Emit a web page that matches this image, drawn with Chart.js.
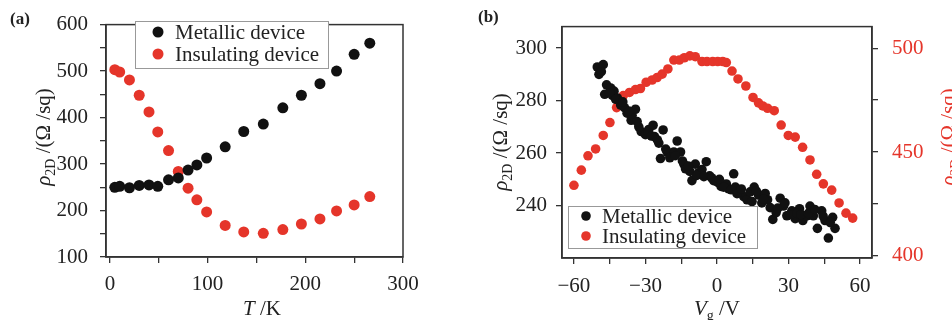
<!DOCTYPE html>
<html>
<head>
<meta charset="utf-8">
<script src="https://cdn.jsdelivr.net/npm/chart.js@4.4.1/dist/chart.umd.min.js"></script>
<style>
  body { margin: 0; background: #fff; width: 952px; height: 320px; overflow: hidden; position: relative; }
  canvas { position: absolute; top: 0; }
  #chartA { left: 0; }
  #chartB { left: 440px; }
</style>
</head>
<body>
<canvas id="chartA" width="440" height="320"></canvas>
<canvas id="chartB" width="512" height="320"></canvas>
<script>
// panel (a): resistivity vs temperature
const tempK = [5, 10, 20, 30, 40, 49, 60, 70, 80, 89, 99, 118, 137, 157, 177, 196, 215, 232, 250, 266];
const rhoMetallicA = [250, 252, 249, 254, 255, 252, 266, 270, 287, 298, 313, 337, 370, 386, 421, 448, 473, 500, 536, 560];
const rhoInsulatingA = [503, 498, 481, 448, 412, 369, 329, 284, 248, 223, 197, 168, 154, 151, 159, 171, 182, 199, 212, 230];

// panel (b): resistivity vs gate voltage
const vgMetallic = [-50.2, -49.5, -47.7, -47.1, -46.3, -44.6, -43.9, -43.2, -41.8, -40.4, -38.8, -37.7, -36, -35.6, -34.2,
  -32.8, -31.8, -30, -28.6, -26.8, -26.2, -24.4, -23.7, -22.6, -20.9, -19.8, -18.1, -16.7, -15.3, -13.9, -13.2, -11.4,
  -10.5, -9.1, -7.7, -6.3, -4.5, -3.1, -1.4, 0.3, 1.7, 3.9, 4.9, 7, 7.7, 9.1, 11.2, 12.6, 13.9, 15.6, 17.4, 18.8, 20.2,
  21.2, 22.3, 23.4, 24.8, 26.5, 27.9, 29.3, 31.4, 32.8, 34.6, 36, 37.7, 39, 40.4, 42.1, 43.9, 45.3, 46.7, 48.5, 49.5,
  -48.5, -45, -42.5, -39.5, -37, -33.5, -29, -27.5, -25, -21.5, -17.5, -14.5, -12, -8.5, -5.5, -2.2, 1, 2.8, 6, 8.4,
  10.2, 14.7, 16.5, 19.5, 25.5, 28.5, 30.5, 33.5, 35.2, 38.3, 41, 44.5, 47.5];
const rhoMetallicB = [292.8, 290, 293.7, 282.4, 286, 284.8, 282, 283.6, 281, 278.3, 277.3, 275.2, 272.5, 274.3, 276.7,
  270, 268.2, 267, 269, 270.6, 266.3, 263.8, 257.9, 268.8, 260.4, 258.2, 260.4, 264.6, 260.4, 255.8, 254, 253,
  249.5, 255.8, 252.5, 253.7, 256.7, 251.3, 249.5, 248.8, 247.3, 248.2, 246.4, 252.1, 247, 245.2, 243.4, 242.2, 245.2, 247, 244, 241, 244.6,
  242.2, 239.2, 234.7, 237.3, 242.8, 239.8, 236.1, 238, 235, 238.8, 234.3, 236.1, 239.8, 236.1, 231.3, 238, 234.3, 227.6, 235.5, 231.3,
  291, 283, 280.5, 279.5, 276, 272, 268, 266.5, 265, 261.5, 259, 257, 255, 251.5, 251, 250.5, 250, 247, 246, 244.5,
  246.3, 241.5, 245.5, 242.5, 239, 241, 236.5, 237, 236.5, 237, 238.5, 236, 233.5];
const vgInsulating = [-60, -56.9, -54.1, -50.9, -47.7, -44.9, -42.1, -39.3, -36.7, -34.2, -32.1, -29.7, -27.2, -25.1, -23,
  -20.6, -18.1, -15.8, -13.7, -11.4, -9.1, -6.3, -4.2, -1.8, 0.3, 2.4, 3.9, 6.3, 8.8, 12.1, 15.1, 17.4, 19.2, 21.2, 24,
  26.9, 29.9, 32.8, 35.9, 39, 41.8, 44.6, 48.1, 51.2, 54.1, 56.9];
const rhoInsulatingB = [434, 441.3, 448.2, 451.5, 458, 464.2, 471.4, 477.2, 478.7, 480.1, 480.6, 483.6, 484.7, 485.9, 487.5,
  490, 494.3, 494.3, 495.4, 496.3, 495.9, 493.6, 493.6, 493.6, 493.6, 493.6, 493.1, 489, 485.2, 481.8, 476.3, 473.7, 472.2, 471.1, 469.9,
  463, 458, 457.2, 452.3, 446.2, 439.3, 434.7, 431.7, 425.5, 420.6, 418.2];

// tick positions (all) and the ones that get a label
const tTicks = [0, 50, 100, 150, 200, 250, 300];
const tLabels = [0, 100, 200, 300];
const rhoTicksA = [100, 150, 200, 250, 300, 350, 400, 450, 500, 550, 600];
const rhoLabelsA = [100, 200, 300, 400, 500, 600];
const vgTicks = [-60, -45, -30, -15, 0, 15, 30, 45, 60];
const vgLabels = [-60, -30, 0, 30, 60];
const rhoTicksLeftB = [240, 260, 280, 300];
const rhoTicksRightB = [400, 425, 450, 475, 500];
const rhoLabelsRightB = [400, 450, 500];

const BLACK = '#111111';
const RED = '#e5352a';
const INK = '#222222';
const AXIS = '#333333';
const SERIF = '"Liberation Serif", "Times New Roman", serif';

Chart.defaults.font.family = SERIF;
Chart.defaults.color = INK;

const toPoints = (xs, ys) => xs.map((x, i) => ({ x: x, y: ys[i] }));
const fmt = v => String(v).replace('-', '\u2212');

function axis(min, max, all, labels, pad, opts) {
  return Object.assign({
    type: 'linear',
    min: min,
    max: max,
    afterBuildTicks: s => { s.ticks = all.map(v => ({ value: v })); },
    ticks: {
      autoSkip: false,
      maxRotation: 0,
      padding: pad,
      font: { size: 21 },
      color: INK,
      callback: v => labels.includes(v) ? fmt(v) : ''
    },
    grid: { drawOnChartArea: false, tickLength: 6, color: AXIS, lineWidth: 1.3 },
    border: { color: AXIS, width: 1.5 }
  }, opts);
}

// draws text with italic / subscript parts, centred on (cx, cy)
function richText(ctx, parts, cx, cy, rot, color, size) {
  ctx.save();
  ctx.translate(cx, cy);
  ctx.rotate(rot);
  const fonts = parts.map(p => (p.i ? 'italic ' : '') + Math.round(p.sub ? size * 0.7 : size) + 'px ' + SERIF);
  let w = 0;
  const widths = parts.map((p, k) => { ctx.font = fonts[k]; const m = ctx.measureText(p.t).width; w += m; return m; });
  let x = -w / 2;
  ctx.fillStyle = color;
  ctx.textBaseline = 'alphabetic';
  parts.forEach((p, k) => {
    ctx.font = fonts[k];
    ctx.fillText(p.t, x, size * 0.35 + (p.sub ? size * 0.25 : 0));
    x += widths[k];
  });
  ctx.restore();
}

const rhoTitle = [{ t: '\u03c1', i: true }, { t: '2D', sub: true }, { t: ' /(\u03a9 /sq)' }];

function drawLegend(chart, box, rowY, dotX, textX) {
  const ctx = chart.ctx;
  ctx.save();
  ctx.fillStyle = '#fff';
  ctx.fillRect(box[0], box[1], box[2], box[3]);
  ctx.strokeStyle = '#999';
  ctx.lineWidth = 1;
  ctx.strokeRect(box[0] + 0.5, box[1] + 0.5, box[2], box[3]);
  chart.data.datasets.forEach((ds, i) => {
    ctx.fillStyle = ds.backgroundColor;
    ctx.beginPath();
    ctx.arc(dotX, rowY[i], ds.pointRadius, 0, Math.PI * 2);
    ctx.fill();
    ctx.fillStyle = INK;
    ctx.font = '21px ' + SERIF;
    ctx.textBaseline = 'middle';
    ctx.fillText(ds.label, textX, rowY[i] + 1);
  });
  ctx.restore();
}

function frame(chart) {
  const a = chart.chartArea, ctx = chart.ctx;
  ctx.save();
  ctx.strokeStyle = AXIS;
  ctx.lineWidth = 1.5;
  ctx.strokeRect(a.left, a.top, a.right - a.left, a.bottom - a.top);
  ctx.restore();
}

const panelA = {
  id: 'panelA',
  afterDraw(chart) {
    const ctx = chart.ctx;
    frame(chart);
    drawLegend(chart, [135, 21, 193, 47], [32, 54], 158, 175);
    richText(ctx, rhoTitle, 43, 137, -Math.PI / 2, INK, 20.5);
    richText(ctx, [{ t: 'T', i: true }, { t: ' /K' }], 262, 308, 0, INK, 20.5);
    ctx.save();
    ctx.font = 'bold 17px ' + SERIF;
    ctx.fillStyle = INK;
    ctx.textBaseline = 'middle';
    ctx.fillText('(a)', 10, 20);
    ctx.restore();
  }
};

const panelB = {
  id: 'panelB',
  afterDraw(chart) {
    const ctx = chart.ctx;
    frame(chart);
    drawLegend(chart, [128, 206, 189, 42], [216, 236], 146, 162);
    richText(ctx, rhoTitle, 60, 142, -Math.PI / 2, INK, 20.5);
    richText(ctx, rhoTitle, 508, 137, -Math.PI / 2, RED, 20.5);
    richText(ctx, [{ t: 'V', i: true }, { t: 'g', sub: true }, { t: ' /V' }], 277, 308, 0, INK, 20.5);
    ctx.save();
    ctx.font = 'bold 17px ' + SERIF;
    ctx.fillStyle = INK;
    ctx.textBaseline = 'middle';
    ctx.fillText('(b)', 38, 18);
    ctx.restore();
  }
};

new Chart(document.getElementById('chartA').getContext('2d'), {
  type: 'scatter',
  data: {
    datasets: [{
      label: 'Metallic device',
      data: toPoints(tempK, rhoMetallicA),
      backgroundColor: BLACK,
      borderWidth: 0,
      pointRadius: 5.5
    }, {
      label: 'Insulating device',
      data: toPoints(tempK, rhoInsulatingA),
      backgroundColor: RED,
      borderWidth: 0,
      pointRadius: 5.5
    }]
  },
  options: {
    responsive: false,
    animation: false,
    layout: { padding: { left: 0, right: 37, top: 16, bottom: 0 } },
    plugins: { legend: { display: false }, tooltip: { enabled: false } },
    scales: {
      x: axis(-4, 300, tTicks, tLabels, 9, { afterFit: s => { s.height = 63; } }),
      y: axis(100, 600, rhoTicksA, rhoLabelsA, 12, { afterFit: s => { s.width = 106; } })
    }
  },
  plugins: [panelA]
});

const ay2B = axis(399, 510.4, rhoTicksRightB, rhoLabelsRightB, 14, { position: 'right', afterFit: s => { s.width = 80; } });
ay2B.ticks.color = RED;

new Chart(document.getElementById('chartB').getContext('2d'), {
  type: 'scatter',
  data: {
    datasets: [{
      label: 'Metallic device',
      data: toPoints(vgMetallic, rhoMetallicB),
      backgroundColor: BLACK,
      borderWidth: 0,
      pointRadius: 4.8,
      yAxisID: 'y'
    }, {
      label: 'Insulating device',
      data: toPoints(vgInsulating, rhoInsulatingB),
      backgroundColor: RED,
      borderWidth: 0,
      pointRadius: 4.8,
      yAxisID: 'y2'
    }]
  },
  options: {
    responsive: false,
    animation: false,
    layout: { padding: { left: 0, right: 0, top: 15, bottom: 0 } },
    plugins: { legend: { display: false }, tooltip: { enabled: false } },
    scales: {
      x: axis(-65, 65, vgTicks, vgLabels, 10, { afterFit: s => { s.height = 62; } }),
      y: axis(220, 308.2, rhoTicksLeftB, rhoTicksLeftB, 9, { afterFit: s => { s.width = 122; } }),
      y2: ay2B
    }
  },
  plugins: [panelB]
});
</script>
</body>
</html>
